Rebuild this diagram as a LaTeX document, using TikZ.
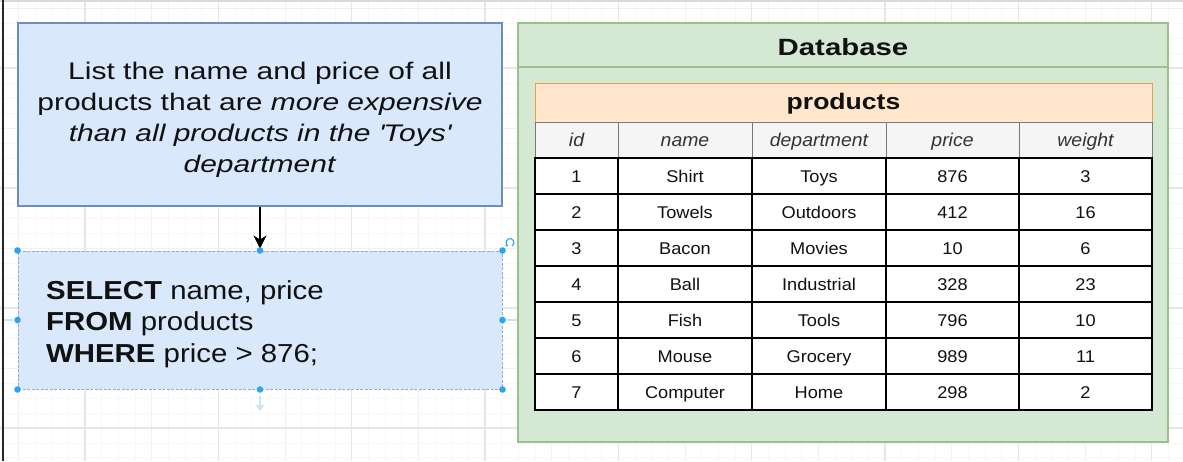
\documentclass[tikz,border=0pt]{standalone}
\usepackage{fontspec}
\setmainfont{Liberation Sans}
\newfontfamily\qfont[FakeStretch=1.25]{Liberation Sans}
\newfontfamily\sqlfont[FakeStretch=1.13]{Liberation Sans}
\newfontfamily\dbfont[FakeStretch=1.25]{Liberation Sans}
\newfontfamily\tblfont[FakeStretch=1.18]{Liberation Sans}
\newfontfamily\hdrfont[FakeStretch=1.05]{Liberation Sans}
\newfontfamily\cellfont[FakeStretch=1.07]{Liberation Sans}
\usetikzlibrary{arrows.meta}
\definecolor{qfill}{HTML}{DAE8FC}
\definecolor{qline}{HTML}{6C8EBF}
\definecolor{sline}{HTML}{8DACDA}
\definecolor{dbfill}{HTML}{D5E8D4}
\definecolor{dbline}{HTML}{9CC08A}
\definecolor{tfill}{HTML}{FFE6CC}
\definecolor{tline}{HTML}{E0A440}
\definecolor{hfill}{HTML}{F5F5F5}
\definecolor{hline}{HTML}{777777}
\definecolor{gminor}{HTML}{F7F7F7}
\definecolor{gmed}{HTML}{F0F0F0}
\definecolor{gmajor}{HTML}{E6E6E6}
\definecolor{handle}{HTML}{2EA3F2}
\definecolor{hover}{HTML}{CBE3F7}
\definecolor{txt}{HTML}{111111}
\definecolor{htxt}{HTML}{333333}
\begin{document}
\begin{tikzpicture}[x=1pt,y=-1pt,
  qbox/.style={draw=qline,fill=qfill,line width=1.5pt,inner sep=0pt},
  sbox/.style={draw=sline,fill=qfill,line width=1pt,dash pattern=on 3pt off 1.5pt,inner sep=0pt},
  dbbox/.style={draw=dbline,fill=dbfill,line width=1.5pt,inner sep=0pt},
  tbox/.style={draw=tline,fill=tfill,line width=1pt,inner sep=0pt,
    font=\tblfont\bfseries\fontsize{22.5}{27}\selectfont,text height=13.6pt,text depth=0pt,text=txt},
  hcell/.style={draw=hline,fill=hfill,line width=1pt,inner sep=0pt,minimum height=36pt,
    font=\hdrfont\itshape\fontsize{18.5}{22}\selectfont,text height=13.6pt,text depth=0pt,text=htxt},
  cell/.style={draw=black,fill=white,line width=1.6pt,inner sep=0pt,minimum height=36pt,
    font=\cellfont\fontsize{17}{20}\selectfont,text height=12.4pt,text depth=0pt,text=txt},
  plain/.style={inner sep=0pt,text=txt},
  hdot/.style={fill=handle},
  hoverarrow/.style={draw=hover,line width=2pt,-{Triangle[length=6pt,width=8pt]}},
  link/.style={draw=black,line width=1.5pt,-{Stealth[length=13pt,width=13pt,inset=4pt]}}
]
\useasboundingbox (0,0) rectangle (1183,461);
\fill[white] (0,0) rectangle (1183,461);
% grid
\foreach \k in {0,...,71} {\draw[gminor,line width=1pt] ({1.67+16.667*\k},0) -- ({1.67+16.667*\k},461);}
\foreach \k in {-1,...,30} {\draw[gminor,line width=1pt] (0,{8+15*\k}) -- (1183,{8+15*\k});}
\foreach \m in {0,...,17} {\draw[gmed,line width=1pt] ({18.33+66.667*\m},0) -- ({18.33+66.667*\m},461);}
\foreach \m in {0,...,7} {\draw[gmed,line width=1pt] (0,{8+60*\m}) -- (1183,{8+60*\m});}
\foreach \m in {0,...,8} {\draw[gmajor,line width=1.2pt] ({85+133.33*\m},0) -- ({85+133.33*\m},461);}
\foreach \m in {0,...,3} {\draw[gmajor,line width=1.2pt] (0,{68+120*\m}) -- (1183,{68+120*\m});}
% frame edges
\draw[color=black!15,line width=1.5pt] (0,0.75) -- (1183,0.75);
\draw[color=black!85,line width=2.5pt] (3,0) -- (3,461);

% question box
\node[qbox,minimum width=484pt,minimum height=183pt] (q) at (260,114.5) {};
\node[plain,anchor=north,align=center,font=\qfont\fontsize{24}{31}\selectfont] (qt) at (260,61.5)
  {List the name and price of all\\products that are \textit{more expensive}\\\textit{than all products in the \textquotesingle Toys\textquotesingle}\\\textit{department}};

% hover arrows of the selected box
\coordinate (hb0) at (260,396);
\coordinate (hb1) at (260,411);
\coordinate (hr0) at (506,320);
\coordinate (hr1) at (527,320);
\coordinate (hl0) at (13,320);
\coordinate (hl1) at (4,320);
\draw[hoverarrow] (hb0) -- (hb1);
\draw[hoverarrow] (hr0) -- (hr1);
\draw[hover,line width=2pt] (hl0) -- (hl1);

% SQL box
\node[sbox,minimum width=484pt,minimum height=138pt] (s) at (260,320) {};
\node[plain,anchor=north west,align=left,font=\sqlfont\fontsize{26}{31.3}\selectfont] (st) at (46,280.4)
  {\textbf{SELECT} name, price\\\textbf{FROM} products\\\textbf{WHERE} price > 876;};

% connector
\draw[link] (q.south) -- ([yshift=2pt]s.north);

% selection handles
\foreach \a in {north west,north,north east,west,east,south west,south,south east}
  {\fill[hdot] (s.\a) circle (3.3pt);}
\coordinate (rot) at (510,242.5);
\draw[handle,line width=1.1pt,-{Stealth[length=2.8pt,width=3.5pt]}] ([shift={(-60:4pt)}]rot) arc[start angle=-60,end angle=240,radius=4pt];

% database container
\node[dbbox,minimum width=650pt,minimum height=419pt] (db) at (843,232.5) {};
\draw[dbline,line width=1.5pt] ([yshift=-44.7pt]db.north west) -- ([yshift=-44.7pt]db.north east);
\node[plain,anchor=base,font=\dbfont\bfseries\fontsize{23.5}{27}\selectfont] (dbt) at (843,55.7) {Database};

% products table title
\node[tbox,minimum width=617pt,minimum height=39pt] (tt) at (843.5,102.5) {products};

% header row
\node[hcell,minimum width=83pt]  (h1) at (576.5,140) {id};
\node[hcell,minimum width=134pt] (h2) at (685,140) {name};
\node[hcell,minimum width=134pt] (h3) at (819,140) {department};
\node[hcell,minimum width=133pt] (h4) at (952.5,140) {price};
\node[hcell,minimum width=133pt] (h5) at (1085.5,140) {weight};

% data rows
\foreach \i/\n/\d/\p/\w [count=\r] in {1/Shirt/Toys/876/3,2/Towels/Outdoors/412/16,3/Bacon/Movies/10/6,4/Ball/Industrial/328/23,5/Fish/Tools/796/10,6/Mouse/Grocery/989/11,7/Computer/Home/298/2}{
  \pgfmathsetmacro\yy{140+36*\r}
  \node[cell,minimum width=83pt]  (c\r-1) at (576.5,\yy) {\i};
  \node[cell,minimum width=134pt] (c\r-2) at (685,\yy) {\n};
  \node[cell,minimum width=134pt] (c\r-3) at (819,\yy) {\d};
  \node[cell,minimum width=133pt] (c\r-4) at (952.5,\yy) {\p};
  \node[cell,minimum width=133pt] (c\r-5) at (1085.5,\yy) {\w};
}
\end{tikzpicture}
\end{document}
